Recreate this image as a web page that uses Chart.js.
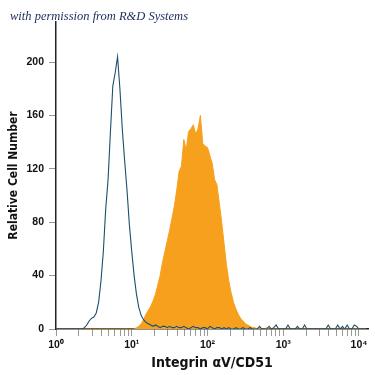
<!DOCTYPE html>
<html>
<head>
<meta charset="utf-8">
<script src="https://cdn.jsdelivr.net/npm/chart.js@4.4.0/dist/chart.umd.min.js"></script>
<style>
  html, body { margin: 0; padding: 0; background: #fff; }
  #wrap { width: 375px; height: 375px; }
</style>
</head>
<body>
<div id="wrap"><canvas id="histChart"></canvas></div>
<script>
// histogram bins: 32 per decade, bin i sits at 10^(i/32)
const binsPerDecade = 32;

// isotype control (blue outline)
const isotypeCounts = [
  0, 0, 0, 0, 0, 0, 0, 0, 0, 0, 0,
  0, 1, 3, 6, 8, 9, 12, 20, 36, 58,
  90, 112, 148, 182, 192, 204, 180, 150, 126, 104,
  78, 58, 40, 26, 16, 10, 7, 5, 4, 3,
  2, 3, 2, 1, 2, 2, 1, 2, 1, 1,
  2, 1, 1, 2, 1, 0, 1, 2, 1, 1,
  0, 1, 1, 0, 2, 1, 0, 1, 1, 0,
  1, 0, 1, 0, 0, 1, 0, 0, 1, 0,
  0, 1, 0, 0, 0, 2, 0, 0, 0, 2,
  0, 1, 3, 0, 0, 0, 0, 3, 0, 0,
  0, 2, 0, 0, 3, 0, 0, 0, 0, 0,
  0, 0, 0, 0, 3, 0, 0, 0, 3, 0,
  2, 0, 3, 0, 0, 3, 2, 0, 0, 0, 0
];

// Integrin aV/CD51 stained cells (orange fill)
const integrinCounts = [
  0, 0, 0, 0, 0, 0, 0, 0, 0, 0, 0,
  0, 0, 0, 0, 0, 0, 0, 0, 0, 0,
  0, 0, 0, 0, 0, 0, 0, 0, 0, 0,
  0, 0, 0, 1, 2, 4, 7, 11, 14, 17,
  21, 26, 33, 40, 50, 58, 66, 74, 83, 92,
  104, 118, 122, 142, 134, 148, 150, 153, 146, 150,
  160, 139, 137, 136, 130, 124, 112, 108, 94, 80,
  64, 48, 36, 27, 20, 15, 11, 8, 6, 4,
  3, 2, 1, 1, 0, 1, 0, 0, 1, 0,
  0, 0, 0, 0, 0, 0, 0, 0, 0, 0,
  0, 0, 0, 0, 0, 0, 0, 0, 0, 0,
  0, 0, 0, 0, 0, 0, 0, 0, 0, 0,
  0, 0, 0, 0, 0, 0, 0, 0, 0, 0, 0
];

const yTicks = [0, 40, 80, 120, 160, 200];
const xDecades = [1, 10, 100, 1000, 10000];
const xTickLabels = ['10⁰', '10¹', '10²', '10³', '10⁴'];
const noteText = 'with permission from R&D Systems';
const xTitle = 'Integrin αV/CD51';
const yTitle = 'Relative Cell Number';

const tickFont = { family: 'Liberation Sans', size: 10.5, weight: 'bold' };
const titleFamily = '"Liberation Sans Narrow", "DejaVu Sans Condensed", "Liberation Sans"';

function toPoints(counts) {
  return counts.map((c, i) => ({ x: Math.pow(10, i / binsPerDecade), y: c }));
}

// minor ticks 2..9 in every decade, decade ticks labelled
function buildXTicks(scale) {
  const ticks = [];
  xDecades.forEach((d, k) => {
    ticks.push({ value: d, major: true });
    if (k < xDecades.length - 1) {
      for (let m = 2; m <= 9; m++) ticks.push({ value: d * m });
    }
  });
  scale.ticks = ticks;
}

const notePlugin = {
  id: 'note',
  afterDraw(chart) {
    const ctx = chart.ctx;
    ctx.save();
    ctx.font = 'italic 12.5px "Liberation Serif"';
    ctx.fillStyle = '#1c2a5e';
    ctx.textBaseline = 'alphabetic';
    ctx.fillText(noteText, 10, 20);
    ctx.restore();
  }
};

const ctx = document.getElementById('histChart').getContext('2d');
new Chart(ctx, {
  type: 'line',
  data: {
    datasets: [
      {
        label: 'Isotype',
        data: toPoints(isotypeCounts),
        borderColor: '#1d4f6e',
        borderWidth: 1.1,
        pointRadius: 0,
        fill: false,
        tension: 0
      },
      {
        label: 'Integrin aV/CD51',
        data: toPoints(integrinCounts),
        borderColor: '#f7a01e',
        backgroundColor: '#f7a01e',
        borderWidth: 1,
        pointRadius: 0,
        fill: 'origin',
        tension: 0
      }
    ]
  },
  options: {
    responsive: true,
    maintainAspectRatio: false,
    animation: false,
    layout: { padding: { left: 0, right: 7, top: 22, bottom: 0 } },
    scales: {
      x: {
        type: 'logarithmic',
        min: 1,
        max: 13150,
        afterBuildTicks: buildXTicks,
        afterFit: s => { s.height = 46; },
        border: { color: '#222', width: 1.5 },
        grid: { drawOnChartArea: false, tickLength: 7, color: '#999' },
        ticks: {
          autoSkip: false,
          maxRotation: 0,
          padding: 3,
          color: '#111',
          font: tickFont,
          callback: value => {
            const k = xDecades.indexOf(value);
            return k >= 0 ? xTickLabels[k] : '';
          }
        },
        title: {
          display: true,
          text: xTitle,
          color: '#111',
          font: { family: titleFamily, size: 14, weight: 'bold' },
          padding: { top: 0, bottom: 3 }
        }
      },
      y: {
        min: 0,
        max: 230,
        afterBuildTicks: s => { s.ticks = yTicks.map(v => ({ value: v })); },
        afterFit: s => { s.width = 56; },
        border: { color: '#222', width: 1.5 },
        grid: { drawOnChartArea: false, tickLength: 7, color: '#999' },
        ticks: { padding: 5, color: '#111', font: tickFont },
        title: {
          display: true,
          text: yTitle,
          color: '#111',
          font: { family: titleFamily, size: 12, weight: 'bold' },
          padding: { top: 7, bottom: 0 }
        }
      }
    },
    plugins: {
      legend: { display: false },
      tooltip: { enabled: false }
    }
  },
  plugins: [notePlugin]
});
</script>
</body>
</html>
